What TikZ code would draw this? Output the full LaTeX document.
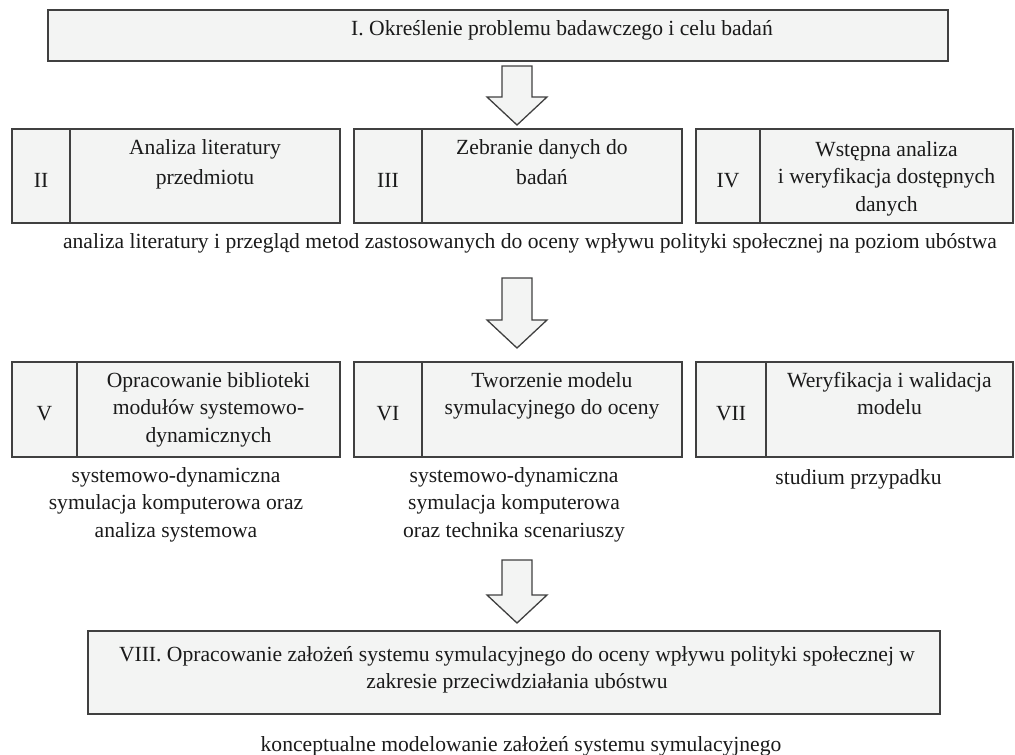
\documentclass[tikz,border=0pt]{standalone}
\usepackage{fontspec}
\setmainfont{Liberation Serif}
\usepackage{xcolor}
\usetikzlibrary{positioning, calc}

\definecolor{boxgray}{HTML}{F3F4F3}
\definecolor{linegray}{HTML}{404040}
\definecolor{txtgray}{HTML}{1A1A1A}

% hollow block arrow from #1 (top of shaft) down to #2 (tip)
\newcommand{\blockarrow}[2]{%
  \draw[bigarr] ($(#1)+(-15,0)$) -- ($(#1)+(15,0)$) -- ($(#2)+(15,-28)$)
    -- ($(#2)+(30,-28)$) -- (#2) -- ($(#2)+(-30,-28)$) -- ($(#2)+(-15,-28)$) -- cycle;}

\begin{document}
\begin{tikzpicture}[
    x=1pt, y=-1pt,
    font=\fontsize{21.6}{27.5}\selectfont,
    box/.style={rectangle, draw=linegray, line width=1.3pt, fill=boxgray, inner sep=0pt, outer sep=0pt, minimum height=94pt, text=txtgray},
    numcell/.style={box, text height=22pt, text depth=0pt},
    txt/.style={align=center, inner sep=0pt, text=txtgray},
    wide/.style={font=\fontsize{21.6}{30.5}\selectfont},
    bigarr/.style={draw=linegray, line width=1.3pt, fill=boxgray, line join=miter}
]
\useasboundingbox (0,0) rectangle (1015,755);

% I
\node[box, minimum width=900pt, minimum height=51pt] (b1) at (498,35.5) {};
\node[txt, anchor=north] (t1) at (562,20) {I. Określenie problemu badawczego i celu badań};

\coordinate (a1s) at (517,66);
\coordinate (a1e) at (517,125);
\blockarrow{a1s}{a1e}

% II - IV
\node[numcell, minimum width=58pt] (n2) at (41,176) {II};
\node[box, minimum width=270pt, right=0pt of n2] (m2) {};
\node[txt, wide, below=10pt of m2.north] (t2) {Analiza literatury\\przedmiotu};

\node[numcell, minimum width=68pt] (n3) at (388,176) {III};
\node[box, minimum width=260pt, right=0pt of n3] (m3) {};
\node[txt, wide, below=10pt of m3.north, xshift=-10pt] (t3) {Zebranie danych do\\badań};

\node[numcell, minimum width=64pt] (n4) at (728,176) {IV};
\node[box, minimum width=253pt, right=0pt of n4] (m4) {};
\node[txt, below=12pt of m4.north] (t4) {Wstępna analiza\\i weryfikacja dostępnych\\danych};

\node[txt, anchor=north] (c1) at (530,233) {analiza literatury i przegląd metod zastosowanych do oceny wpływu polityki społecznej na poziom ubóstwa};

\coordinate (a2s) at (517,278);
\coordinate (a2e) at (517,348);
\blockarrow{a2s}{a2e}

% V - VII
\node[numcell, minimum width=65pt, minimum height=95pt] (n5) at (44.5,409.5) {V};
\node[box, minimum width=263pt, minimum height=95pt, right=0pt of n5] (m5) {};
\node[txt, below=10pt of m5.north] (t5) {Opracowanie biblioteki\\modułów systemowo-\\dynamicznych};

\node[numcell, minimum width=68pt, minimum height=95pt] (n6) at (388,409.5) {VI};
\node[box, minimum width=260pt, minimum height=95pt, right=0pt of n6] (m6) {};
\node[txt, below=10pt of m6.north] (t6) {Tworzenie modelu\\symulacyjnego do oceny};

\node[numcell, minimum width=70pt, minimum height=95pt] (n7) at (731,409.5) {VII};
\node[box, minimum width=247pt, minimum height=95pt, right=0pt of n7] (m7) {};
\node[txt, below=10pt of m7.north] (t7) {Weryfikacja i walidacja\\modelu};

\node[txt, anchor=north] (c5) at ($(n5.south west)!0.5!(m5.south east)+(0,10)$) {systemowo-dynamiczna\\symulacja komputerowa oraz\\analiza systemowa};
\node[txt, anchor=north] (c6) at ($(n6.south west)!0.5!(m6.south east)+(-4,10)$) {systemowo-dynamiczna\\symulacja komputerowa\\oraz technika scenariuszy};
\node[txt, anchor=north] (c7) at ($(n7.south west)!0.5!(m7.south east)+(4,12)$) {studium przypadku};

\coordinate (a3s) at (517,560);
\coordinate (a3e) at (517,623);
\blockarrow{a3s}{a3e}

% VIII
\node[box, minimum width=852pt, minimum height=83pt] (b8) at (514,672.5) {};
\node[txt, below=15pt of b8.north, xshift=3pt] (t8) {VIII. Opracowanie założeń systemu symulacyjnego do oceny wpływu polityki społecznej w\\zakresie przeciwdziałania ubóstwu};
\node[txt, below=22pt of b8.south, xshift=7pt] (c8) {konceptualne modelowanie założeń systemu symulacyjnego};

\end{tikzpicture}
\end{document}
